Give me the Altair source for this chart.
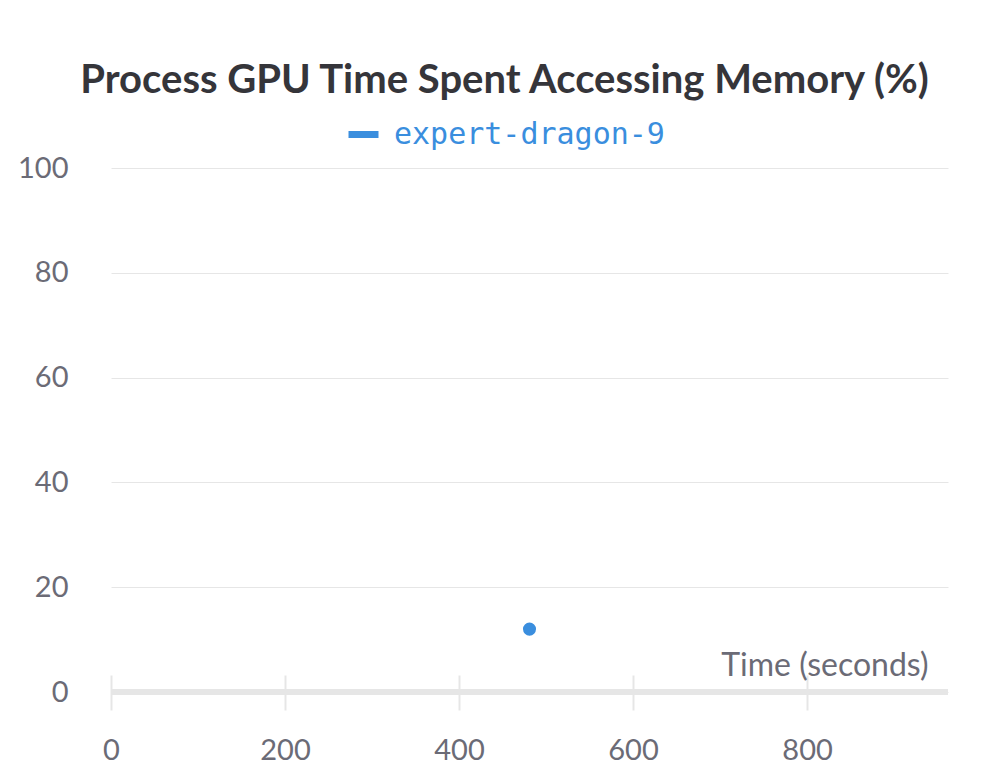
import altair as alt
import pandas as pd

series = ["expert-dragon-9"]
time_s = [481]
mem_pct = [12]
x_ticks = [0, 200, 400, 600, 800]
y_ticks = [0, 20, 40, 60, 80, 100]

df = pd.DataFrame({"t": time_s, "v": mem_pct, "run": series * len(time_s)})

W, H = 837, 524
BLUE = "#3a8ede"
GRAY = "#6b6b76"
LINE = "#e6e6e6"

x_scale = alt.Scale(domain=[0, 962], nice=False, zero=False)
y_scale = alt.Scale(domain=[0, 100], nice=False)

y_axis = alt.Axis(values=y_ticks, grid=True, gridColor=LINE, domain=False,
                  ticks=False, labelPadding=43, labelFontSize=29,
                  labelColor=GRAY, labelFont="Lato", title=None)

points = alt.Chart(df).mark_circle(size=170, opacity=1).encode(
    x=alt.X("t:Q", scale=x_scale,
            axis=alt.Axis(values=x_ticks, grid=False, domain=False, offset=-17,
                          tickSize=35, tickWidth=2, tickColor=LINE, labelFlush=False,
                          labelPadding=26, labelFontSize=29, labelColor=GRAY,
                          labelFont="Lato", title="Time (seconds)",
                          titleFont="Lato", titleFontSize=32, titleFontWeight="normal",
                          titleColor=GRAY, titleAnchor="end", titleAlign="right",
                          titleBaseline="alphabetic", titleX=W - 20, titleY=0)),
    y=alt.Y("v:Q", scale=y_scale, axis=y_axis),
    color=alt.Color("run:N", scale=alt.Scale(range=[BLUE]),
                    legend=alt.Legend(title=None, orient="none", legendX=234, legendY=-52,
                                      symbolType="stroke", symbolSize=900,
                                      symbolStrokeWidth=7, symbolStrokeColor=BLUE,
                                      labelFont="DejaVu Sans Mono", labelFontSize=30,
                                      labelColor=BLUE, labelOffset=12, labelLimit=600)),
)

base_line = alt.Chart(pd.DataFrame({"z": [0]})).mark_rule(
    color=LINE, strokeWidth=6
).encode(y=alt.Y("z:Q", scale=y_scale, axis=y_axis))

chart = alt.layer(points, base_line).properties(
    width=W, height=H,
    title=alt.TitleParams("Process GPU Time Spent Accessing Memory (%)",
                          font="Lato", fontSize=40, fontWeight="bold",
                          color="#35353a", anchor="middle", dx=-25, offset=15),
    autosize=alt.AutoSizeParams(type="none"),
    padding={"left": 111, "top": 168, "right": 60, "bottom": 91},
).configure_view(stroke=None)

chart.save("out.html", embed_options={"renderer": "svg", "actions": False})
